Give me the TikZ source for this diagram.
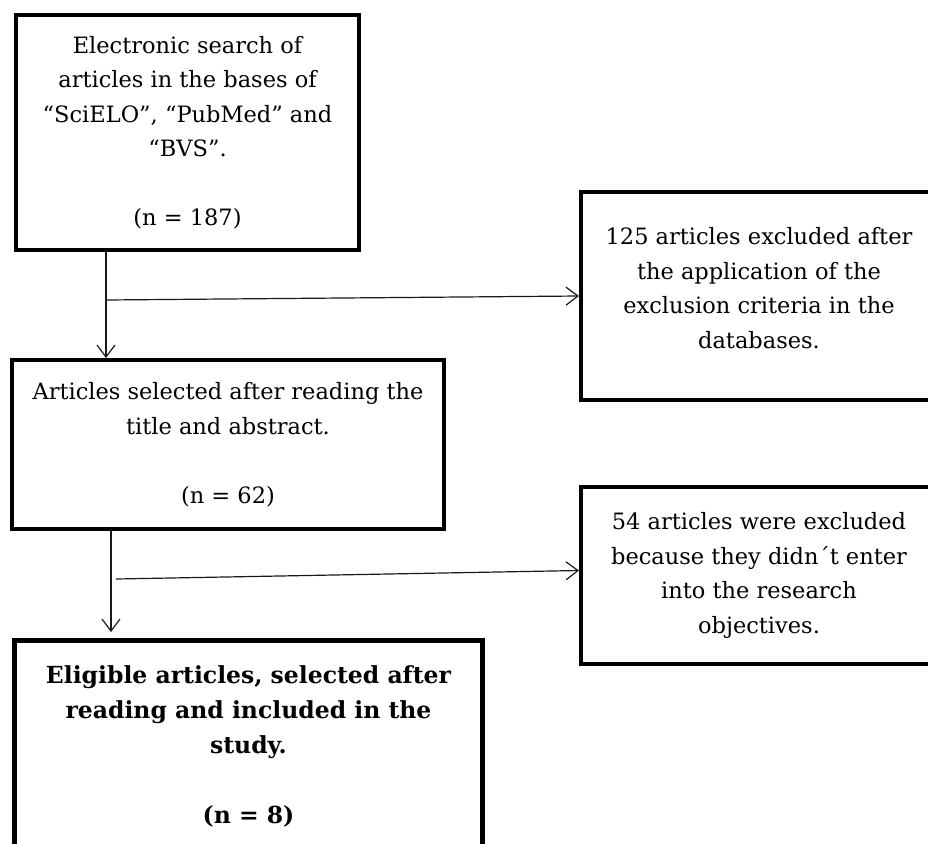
\documentclass[tikz,border=0pt]{standalone}
\usepackage{fontspec}
\setmainfont{DejaVu Serif}
\usetikzlibrary{arrows.meta, positioning}
\definecolor{colBorder}{RGB}{0,0,0}
\definecolor{colArrow}{RGB}{25,25,25}
\tikzset{
  stepbox/.style={
    rectangle, draw=colBorder, line width=4pt,
    anchor=north west, align=center, inner sep=4pt,
    font=\fontsize{22.5}{34.5}\selectfont
  },
  finalbox/.style={
    stepbox, line width=5pt,
    font=\fontsize{23.5}{35}\selectfont\bfseries
  },
  arr/.style={
    -{Straight Barb[length=12pt,width=18pt]}, line width=1.2pt, color=colArrow
  }
}
\begin{document}
\begin{tikzpicture}[x=1pt,y=-1pt]
\useasboundingbox (0,0) rectangle (928,843);

%% ==============================================================
%% Main flow (left column)
%% ==============================================================

% --- Search ---
\node[stepbox, minimum width=343pt, minimum height=235pt] (search) at (14,13) {
  Electronic search of\\
  articles in the bases of\\
  “SciELO”, “PubMed” and\\
  “BVS”.\\[34.5pt]
  (n = 187)
};

% --- Title / abstract screening ---
\node[stepbox, minimum width=432pt, minimum height=169pt] (titles) at (10,358) {
  Articles selected after reading the\\
  title and abstract.\\[34.5pt]
  (n = 62)
};

% --- Included studies (bottom cut by the page) ---
\node[finalbox, minimum width=468pt, minimum height=212pt] (final) at (12,638) {
  Eligible articles, selected after\\
  reading and included in the\\
  study.\\[35pt]
  (n = 8)
};

%% ==============================================================
%% Exclusions (right column, right edge cut by the page)
%% ==============================================================

\node[stepbox, minimum width=356pt, minimum height=208pt] (exclA) at (579,190) {
  125 articles excluded after\\
  the application of the\\
  exclusion criteria in the\\
  databases.\\[-18pt]\mbox{}
};

\node[stepbox, minimum width=356pt, minimum height=177pt] (exclB) at (579,485) {
  54 articles were excluded\\
  because they didn´t enter\\
  into the research\\
  objectives.
};

%% ==============================================================
%%  ARROWS
%% ==============================================================

% Search to screening
\draw[arr] ([xshift=92pt]search.south west) -- ([xshift=92pt]search.south west |- titles.north);
\draw[arr] ([xshift=92pt,yshift=-48pt]search.south west) -- (exclA.west);

% Screening to included
\draw[arr, shorten >=6pt] ([xshift=101pt]titles.south west) -- ([xshift=101pt]titles.south west |- final.north);
\draw[arr] ([xshift=106pt,yshift=-48pt]titles.south west) -- ([yshift=5pt]exclB.west);

\end{tikzpicture}
\end{document}
